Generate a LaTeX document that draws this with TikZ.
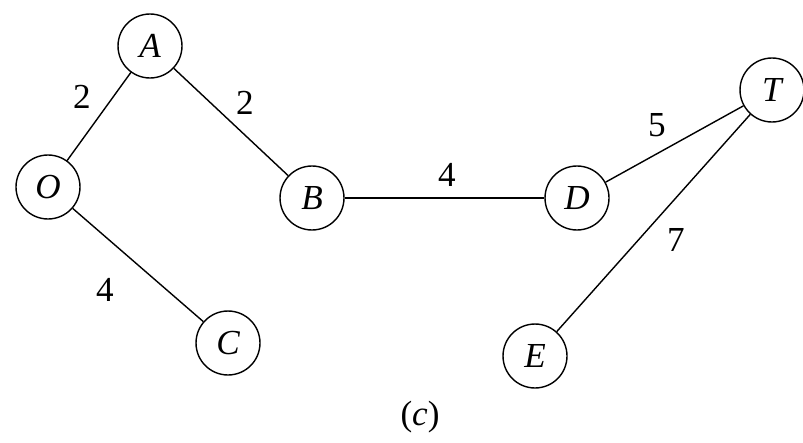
\documentclass[tikz,border=0pt]{standalone}
\usepackage{fontspec}
\setmainfont{Liberation Serif}
\begin{document}
\begin{tikzpicture}[x=0.02cm, y=-0.02cm]
    \tikzset{
        vertex/.style={draw, circle, line width=0.8pt, minimum size=1.28cm, inner sep=0pt, font=\fontsize{20}{24}\selectfont\itshape},
        edge/.style={line width=0.8pt},
        weight/.style={font=\fontsize{20}{24}\selectfont}
    }

    % Fix the canvas
    \useasboundingbox (0,0) rectangle (803,442);

    % Vertices
    \node[vertex] (O) at (48,187) {O};
    \node[vertex] (A) at (150,46) {A};
    \node[vertex] (B) at (312,198) {B};
    \node[vertex] (C) at (228,343) {C};
    \node[vertex] (D) at (577,198) {D};
    \node[vertex] (T) at (772,90) {T};
    \node[vertex] (E) at (535,356) {E};

    % Edges
    \draw[edge] (O) -- (A);
    \draw[edge] (A) -- (B);
    \draw[edge] (O) -- (C);
    \draw[edge] (B) -- (D);
    \draw[edge] (D) -- (T);
    \draw[edge] (T) -- (E);

    % Weights
    \node[weight] (wOA) at (82,97) {2};
    \node[weight] (wAB) at (245,103) {2};
    \node[weight] (wOC) at (105,290) {4};
    \node[weight] (wBD) at (447,175) {4};
    \node[weight] (wDT) at (657,125) {5};
    \node[weight] (wTE) at (676,240) {7};

    % Caption
    \node[weight] (cap) at (420,417) {(\textit{c})};

\end{tikzpicture}
\end{document}
